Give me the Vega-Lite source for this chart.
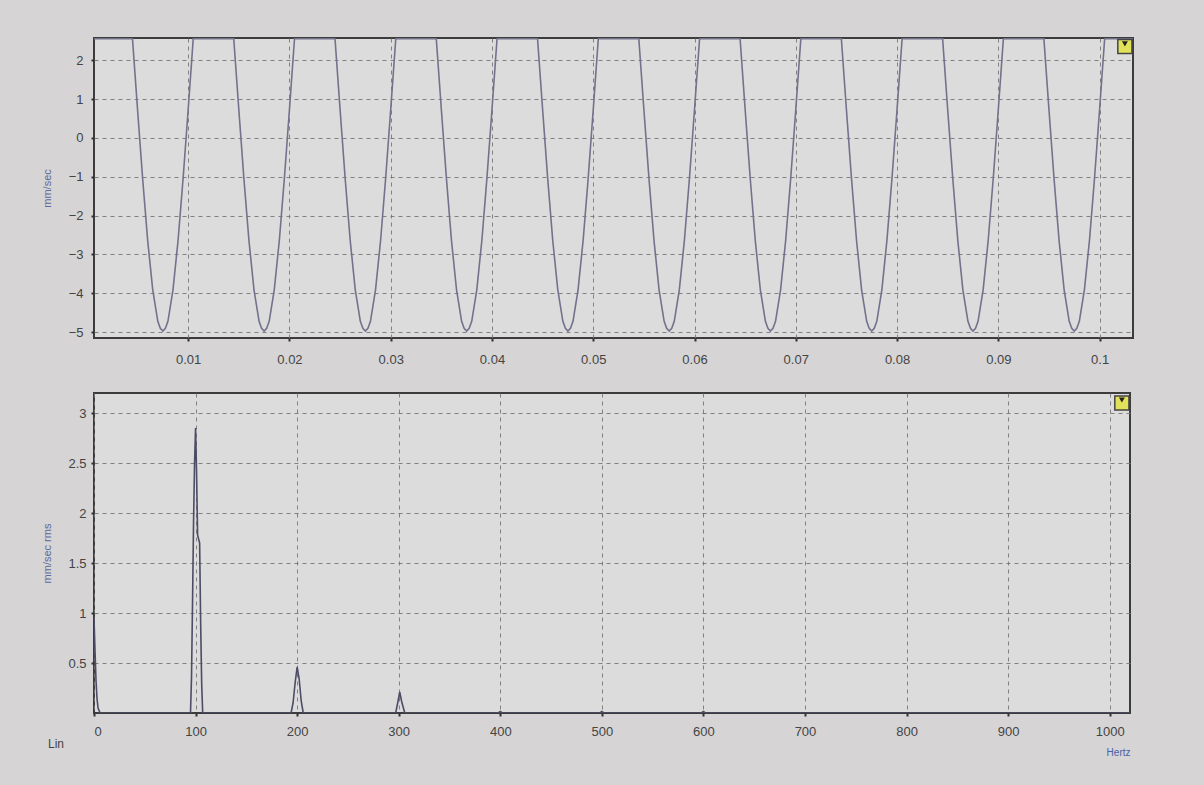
{
  "$schema": "https://vega.github.io/schema/vega-lite/v6.json",
  "background": "#d6d4d4",
  "padding": {"left": 40, "top": 35, "right": 75, "bottom": 40},
  "spacing": 24,
  "config": {
    "view": {"stroke": "#3c3c3c", "strokeWidth": 2, "fill": "#dddcdc"},
    "axis": {
      "labelFont": "Liberation Sans", "labelFontSize": 13, "labelColor": "#444444",
      "domain": false, "tickColor": "#333333", "tickSize": 3, "tickWidth": 2,
      "gridColor": "#777777", "gridDash": [4, 4], "gridWidth": 1, "gridOpacity": 0.9,
      "titleFont": "Liberation Sans", "titleFontWeight": "normal", "titleFontSize": 11, "titleColor": "#5b6b9b"
    }
  },
  "datasets": {
    "wave": [
      {"t":0.0007,"v":2.55},
      {"t":0.0045,"v":2.55},{"t":0.005,"v":0.73},{"t":0.0055,"v":-1.04},{"t":0.006,"v":-2.64},{"t":0.0065,"v":-3.91},{"t":0.007,"v":-4.72},{"t":0.00725,"v":-4.9},{"t":0.0075,"v":-4.97},{"t":0.00775,"v":-4.9},{"t":0.008,"v":-4.72},{"t":0.0085,"v":-3.91},{"t":0.009,"v":-2.64},{"t":0.0095,"v":-1.04},{"t":0.01,"v":0.73},{"t":0.0105,"v":2.55},
      {"t":0.0145,"v":2.55},{"t":0.015,"v":0.73},{"t":0.0155,"v":-1.04},{"t":0.016,"v":-2.64},{"t":0.0165,"v":-3.91},{"t":0.017,"v":-4.72},{"t":0.01725,"v":-4.9},{"t":0.0175,"v":-4.97},{"t":0.01775,"v":-4.9},{"t":0.018,"v":-4.72},{"t":0.0185,"v":-3.91},{"t":0.019,"v":-2.64},{"t":0.0195,"v":-1.04},{"t":0.02,"v":0.73},{"t":0.0205,"v":2.55},
      {"t":0.0245,"v":2.55},{"t":0.025,"v":0.73},{"t":0.0255,"v":-1.04},{"t":0.026,"v":-2.64},{"t":0.0265,"v":-3.91},{"t":0.027,"v":-4.72},{"t":0.02725,"v":-4.9},{"t":0.0275,"v":-4.97},{"t":0.02775,"v":-4.9},{"t":0.028,"v":-4.72},{"t":0.0285,"v":-3.91},{"t":0.029,"v":-2.64},{"t":0.0295,"v":-1.04},{"t":0.03,"v":0.73},{"t":0.0305,"v":2.55},
      {"t":0.0345,"v":2.55},{"t":0.035,"v":0.73},{"t":0.0355,"v":-1.04},{"t":0.036,"v":-2.64},{"t":0.0365,"v":-3.91},{"t":0.037,"v":-4.72},{"t":0.03725,"v":-4.9},{"t":0.0375,"v":-4.97},{"t":0.03775,"v":-4.9},{"t":0.038,"v":-4.72},{"t":0.0385,"v":-3.91},{"t":0.039,"v":-2.64},{"t":0.0395,"v":-1.04},{"t":0.04,"v":0.73},{"t":0.0405,"v":2.55},
      {"t":0.0445,"v":2.55},{"t":0.045,"v":0.73},{"t":0.0455,"v":-1.04},{"t":0.046,"v":-2.64},{"t":0.0465,"v":-3.91},{"t":0.047,"v":-4.72},{"t":0.04725,"v":-4.9},{"t":0.0475,"v":-4.97},{"t":0.04775,"v":-4.9},{"t":0.048,"v":-4.72},{"t":0.0485,"v":-3.91},{"t":0.049,"v":-2.64},{"t":0.0495,"v":-1.04},{"t":0.05,"v":0.73},{"t":0.0505,"v":2.55},
      {"t":0.0545,"v":2.55},{"t":0.055,"v":0.73},{"t":0.0555,"v":-1.04},{"t":0.056,"v":-2.64},{"t":0.0565,"v":-3.91},{"t":0.057,"v":-4.72},{"t":0.05725,"v":-4.9},{"t":0.0575,"v":-4.97},{"t":0.05775,"v":-4.9},{"t":0.058,"v":-4.72},{"t":0.0585,"v":-3.91},{"t":0.059,"v":-2.64},{"t":0.0595,"v":-1.04},{"t":0.06,"v":0.73},{"t":0.0605,"v":2.55},
      {"t":0.0645,"v":2.55},{"t":0.065,"v":0.73},{"t":0.0655,"v":-1.04},{"t":0.066,"v":-2.64},{"t":0.0665,"v":-3.91},{"t":0.067,"v":-4.72},{"t":0.06725,"v":-4.9},{"t":0.0675,"v":-4.97},{"t":0.06775,"v":-4.9},{"t":0.068,"v":-4.72},{"t":0.0685,"v":-3.91},{"t":0.069,"v":-2.64},{"t":0.0695,"v":-1.04},{"t":0.07,"v":0.73},{"t":0.0705,"v":2.55},
      {"t":0.0745,"v":2.55},{"t":0.075,"v":0.73},{"t":0.0755,"v":-1.04},{"t":0.076,"v":-2.64},{"t":0.0765,"v":-3.91},{"t":0.077,"v":-4.72},{"t":0.07725,"v":-4.9},{"t":0.0775,"v":-4.97},{"t":0.07775,"v":-4.9},{"t":0.078,"v":-4.72},{"t":0.0785,"v":-3.91},{"t":0.079,"v":-2.64},{"t":0.0795,"v":-1.04},{"t":0.08,"v":0.73},{"t":0.0805,"v":2.55},
      {"t":0.0845,"v":2.55},{"t":0.085,"v":0.73},{"t":0.0855,"v":-1.04},{"t":0.086,"v":-2.64},{"t":0.0865,"v":-3.91},{"t":0.087,"v":-4.72},{"t":0.08725,"v":-4.9},{"t":0.0875,"v":-4.97},{"t":0.08775,"v":-4.9},{"t":0.088,"v":-4.72},{"t":0.0885,"v":-3.91},{"t":0.089,"v":-2.64},{"t":0.0895,"v":-1.04},{"t":0.09,"v":0.73},{"t":0.0905,"v":2.55},
      {"t":0.0945,"v":2.55},{"t":0.095,"v":0.73},{"t":0.0955,"v":-1.04},{"t":0.096,"v":-2.64},{"t":0.0965,"v":-3.91},{"t":0.097,"v":-4.72},{"t":0.09725,"v":-4.9},{"t":0.0975,"v":-4.97},{"t":0.09775,"v":-4.9},{"t":0.098,"v":-4.72},{"t":0.0985,"v":-3.91},{"t":0.099,"v":-2.64},{"t":0.0995,"v":-1.04},{"t":0.1,"v":0.73},{"t":0.1005,"v":2.55},
      {"t":0.1033,"v":2.55}
    ],
    "spec": [
      {"f":0,"a":0.95},{"f":1,"a":0.62},{"f":2,"a":0.32},{"f":3,"a":0.14},{"f":4,"a":0.05},{"f":6,"a":0},
      {"f":95,"a":0},{"f":96,"a":0.35},{"f":97,"a":1.1},{"f":98,"a":1.9},{"f":99,"a":2.5},{"f":100,"a":2.85},{"f":101,"a":2.4},{"f":102,"a":1.78},{"f":104,"a":1.7},{"f":105,"a":0.9},{"f":106,"a":0.3},{"f":107,"a":0},
      {"f":194,"a":0},{"f":196,"a":0.1},{"f":198,"a":0.3},{"f":200,"a":0.46},{"f":202,"a":0.34},{"f":204,"a":0.12},{"f":206,"a":0},
      {"f":297,"a":0},{"f":299,"a":0.1},{"f":301,"a":0.21},{"f":303,"a":0.11},{"f":306,"a":0},
      {"f":398,"a":0},{"f":400,"a":0.015},{"f":402,"a":0},{"f":498,"a":0},{"f":500,"a":0.015},{"f":502,"a":0},{"f":598,"a":0},{"f":600,"a":0.015},{"f":602,"a":0},{"f":1020,"a":0}
    ]
  },
  "vconcat": [
    {
      "width": 1039,
      "height": 300,
      "layer": [
        {
          "data": {"name": "wave"},
          "mark": {"type": "line", "color": "#72728c", "strokeWidth": 1.6, "clip": true},
          "encoding": {
            "x": {"field": "t", "type": "quantitative",
                  "scale": {"domain": [0.0007, 0.1033], "nice": false, "zero": false},
                  "axis": {"values": [0.01,0.02,0.03,0.04,0.05,0.06,0.07,0.08,0.09,0.1], "format": ".2~f", "labelPadding": 12, "title": null}},
            "y": {"field": "v", "type": "quantitative",
                  "scale": {"domain": [-5.15, 2.57], "nice": false, "zero": false},
                  "axis": {"values": [-5,-4,-3,-2,-1,0,1,2], "format": "d", "labelPadding": 8, "title": "mm/sec",
                           "titleX": -42, "titleAngle": 270, "titleBaseline": "bottom", "titleAlign": "center"}}
          }
        },
        {
          "data": {"values": [{}]},
          "mark": {"type": "point", "shape": "square", "size": 200, "filled": true, "fill": "#e2e25a", "stroke": "#444444", "strokeWidth": 1.5, "opacity": 1},
          "encoding": {"x": {"datum": 0.1025, "type": "quantitative"}, "y": {"datum": 2.35, "type": "quantitative"}}
        },
        {
          "data": {"values": [{}]},
          "mark": {"type": "point", "shape": "triangle-down", "size": 35, "filled": true, "color": "#222222", "opacity": 1},
          "encoding": {"x": {"datum": 0.1025, "type": "quantitative"}, "y": {"datum": 2.42, "type": "quantitative"}}
        }
      ]
    },
    {
      "width": 1036,
      "height": 320,
      "title": {"text": "Lin", "orient": "left", "anchor": "start", "frame": "group", "angle": 0, "align": "left", "baseline": "top",
                "dy": 26, "dx": 23, "offset": 0, "fontSize": 12, "font": "Liberation Sans", "fontWeight": "normal", "color": "#444444"},
      "layer": [
        {
          "data": {"name": "spec"},
          "mark": {"type": "line", "color": "#4c4c66", "strokeWidth": 1.6, "clip": true},
          "encoding": {
            "x": {"field": "f", "type": "quantitative",
                  "scale": {"domain": [0, 1020], "nice": false, "zero": false},
                  "axis": {"values": [0,100,200,300,400,500,600,700,800,900,1000], "format": "d", "labelPadding": 9,
                           "title": "Hertz", "titleAnchor": "end", "titleAlign": "right", "titleBaseline": "top",
                           "titleY": 34, "titleColor": "#4a5fa8", "titleFontSize": 10}},
            "y": {"field": "a", "type": "quantitative",
                  "scale": {"domain": [0, 3.2], "nice": false, "zero": false},
                  "axis": {"values": [0.5,1,1.5,2,2.5,3], "format": ".1~f", "labelPadding": 5, "title": "mm/sec rms",
                           "titleX": -42, "titleAngle": 270, "titleBaseline": "bottom", "titleAlign": "center"}}
          }
        },
        {
          "data": {"values": [{}]},
          "mark": {"type": "point", "shape": "square", "size": 200, "filled": true, "fill": "#e2e25a", "stroke": "#444444", "strokeWidth": 1.5, "opacity": 1},
          "encoding": {"x": {"datum": 1012, "type": "quantitative"}, "y": {"datum": 3.1, "type": "quantitative"}}
        },
        {
          "data": {"values": [{}]},
          "mark": {"type": "point", "shape": "triangle-down", "size": 35, "filled": true, "color": "#222222", "opacity": 1},
          "encoding": {"x": {"datum": 1012, "type": "quantitative"}, "y": {"datum": 3.13, "type": "quantitative"}}
        }
      ]
    }
  ]
}
